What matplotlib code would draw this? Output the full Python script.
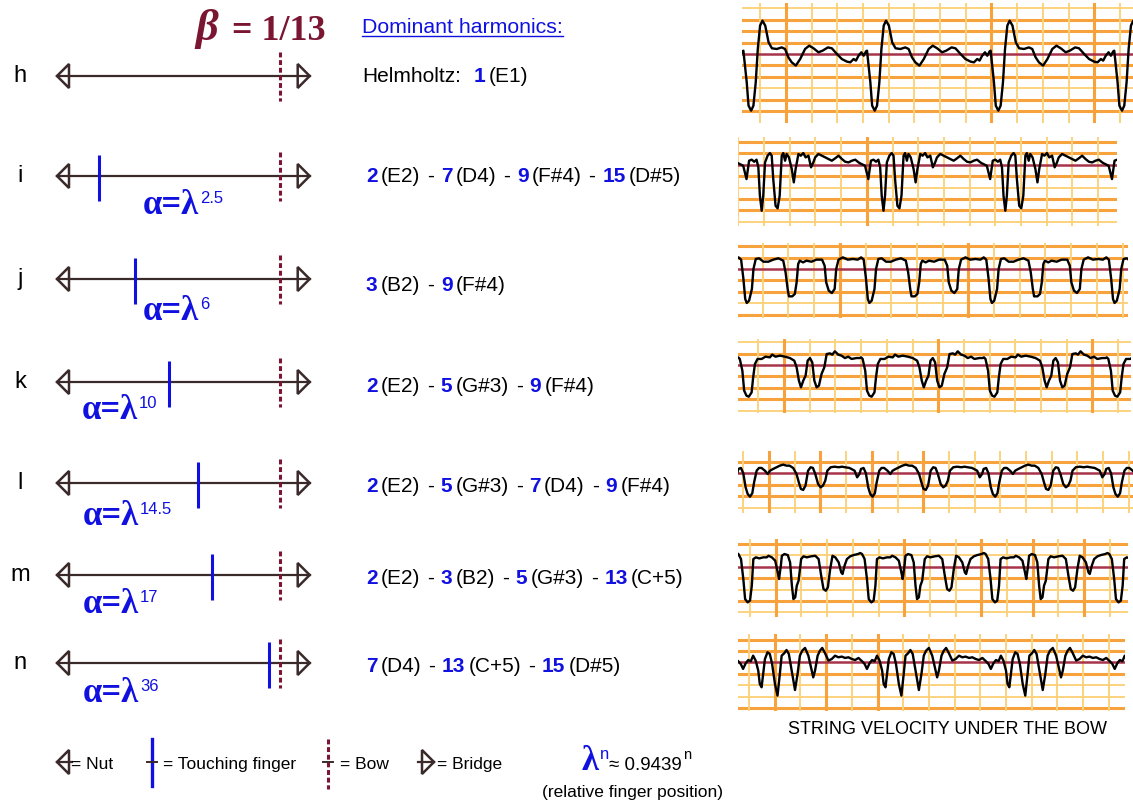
import numpy as np
import matplotlib.pyplot as plt
from matplotlib.patches import Polygon

plt.rcParams['font.family'] = ['Liberation Sans', 'DejaVu Sans']

W, H = 1133, 804

# semitone ratio and bow position
lam = 0.9439
beta = 1 / 13

row_names = ['h', 'i', 'j', 'k', 'l', 'm', 'n']
finger_exp = [None, 2.5, 6, 10, 14.5, 17, 36]
finger_exp_txt = ['', '2.5', '6', '10', '14.5', '17', '36']

harm_nums = [[1], [2, 7, 9, 15], [3, 9], [2, 5, 9], [2, 5, 7, 9], [2, 3, 5, 13], [7, 13, 15]]
harm_notes = [['E1'], ['E2', 'D4', 'F#4', 'D#5'], ['B2', 'F#4'], ['E2', 'G#3', 'F#4'],
              ['E2', 'G#3', 'D4', 'F#4'], ['E2', 'B2', 'G#3', 'C+5'], ['D4', 'C+5', 'D#5']]

# one period of string velocity per case (time in grid columns, velocity in grid rows)
h_t = [-0.30, -0.17, -0.10, 0.00, 0.09, 0.18, 0.26, 0.35, 0.44, 0.55, 0.68, 0.81, 1.00, 1.19,
       1.32, 1.45, 1.58, 1.74, 1.91, 2.10, 2.26, 2.43, 2.62, 2.78, 2.99, 3.14, 3.34, 3.53, 3.73,
       3.86, 3.99, 4.08, 4.18, 4.29, 4.38, 4.47]
h_v = [0.29, -2.49, -4.53, -4.97, -4.53, -2.49, 0.44, 2.49, 2.92, 2.49, 1.02, 0.50, 0.44, 0.58,
       0.44, -0.29, -0.73, -1.02, -0.44, 0.44, 0.73, 0.50, 0.15, 0.29, 0.58, 0.50, 0.00, -0.44,
       -0.67, -0.73, -0.44, -0.58, -0.15, 0.15, -0.15, 0.23]

i_t = [0.00, 0.19, 0.32, 0.42, 0.52, 0.62, 0.71, 0.78, 0.84, 0.91, 0.97, 1.04, 1.14, 1.23, 1.30,
       1.36, 1.45, 1.53, 1.61, 1.69, 1.75, 1.82, 1.88, 1.97, 2.08, 2.16, 2.23, 2.34, 2.43, 2.53,
       2.62, 2.73, 2.83, 2.92, 2.99, 3.12, 3.25, 3.38, 3.51, 3.64, 3.77, 3.90, 4.03, 4.16, 4.29,
       4.42, 4.55, 4.68]
i_v = [0.12, -0.09, -1.26, 0.35, 0.44, 0.26, 0.44, -0.23, -2.72, -4.04, -2.72, 0.20, 0.79, 1.02,
       0.79, -1.26, -3.60, -3.83, -2.72, 0.79, 1.02, 0.35, 0.94, 0.64, -0.38, -1.55, -0.38, 0.94,
       0.79, 1.02, 0.64, 0.79, -0.23, 0.20, 0.64, 0.94, 0.79, 0.64, 0.50, 0.35, 0.56, 0.79, 0.50,
       0.26, 0.20, 0.35, 0.44, 0.20]

j_t = [0.00, 0.10, 0.19, 0.26, 0.32, 0.41, 0.52, 0.58, 0.67, 0.80, 0.97, 1.16, 1.35, 1.55, 1.74,
       1.83, 1.91, 1.96, 2.09, 2.19, 2.26, 2.32, 2.38, 2.51, 2.64, 2.84, 3.03, 3.25, 3.35, 3.41,
       3.51, 3.63, 3.74, 3.80, 3.89, 4.06, 4.25, 4.45, 4.64]
j_v = [1.02, 0.82, -0.88, -2.63, -2.98, -2.78, -1.75, 0.00, 0.88, 0.94, 0.64, 0.64, 0.82, 0.94,
       0.73, -0.29, -1.75, -2.40, -2.40, -2.19, -1.17, 0.44, 0.73, 0.58, 0.73, 0.64, 0.82, 0.82,
       0.29, -1.17, -1.90, -2.11, -1.75, 0.00, 0.82, 1.02, 0.82, 0.88, 0.82]

k_t = [0.00, 0.06, 0.16, 0.23, 0.32, 0.41, 0.52, 0.58, 0.65, 0.75, 0.91, 1.06, 1.23, 1.32, 1.45,
       1.62, 1.82, 2.01, 2.18, 2.27, 2.36, 2.44, 2.53, 2.62, 2.70, 2.79, 2.88, 2.96, 3.05, 3.14,
       3.24, 3.35, 3.44, 3.57, 3.66, 3.76, 3.89, 4.02, 4.15, 4.28, 4.41, 4.60, 4.73]
k_v = [0.67, 0.53, -0.50, -2.25, -2.69, -2.78, -2.40, -1.08, 0.09, 0.53, 0.53, 0.73, 0.67, 0.91,
       0.73, 0.82, 0.73, 0.61, 0.38, -0.20, -1.37, -1.96, -1.37, -0.94, 0.38, 0.61, 0.23, -1.37,
       -1.96, -1.81, -0.79, -0.20, 0.96, 1.02, 0.91, 1.20, 0.91, 0.82, 0.61, 0.73, 0.53, 0.61, 0.61]

l_t = [0.00, 0.10, 0.19, 0.28, 0.36, 0.45, 0.54, 0.61, 0.71, 0.80, 0.90, 1.03, 1.14, 1.23, 1.35,
       1.48, 1.61, 1.74, 1.87, 1.99, 2.13, 2.26, 2.35, 2.43, 2.52, 2.61, 2.71, 2.81, 2.90, 2.99,
       3.10, 3.20, 3.29, 3.38, 3.46, 3.59, 3.74, 3.90, 4.03, 4.15, 4.32, 4.52, 4.62, 4.71]
l_v = [0.38, 0.47, 0.00, -1.23, -1.81, -2.05, -1.75, -0.79, 0.23, 0.47, 0.47, 0.23, -0.06, 0.23,
       0.38, 0.53, 0.67, 0.76, 0.67, 0.67, 0.47, -0.06, -0.79, -1.37, -1.46, -1.08, 0.23, 0.53,
       0.47, -0.06, -0.94, -1.23, -1.08, -0.64, 0.23, 0.53, 0.58, 0.53, 0.58, 0.53, 0.47, 0.23,
       -0.35, -0.06]

m_t = [0.00, 0.10, 0.19, 0.26, 0.36, 0.45, 0.52, 0.58, 0.68, 0.81, 0.97, 1.10, 1.17, 1.30, 1.43,
       1.53, 1.58, 1.65, 1.69, 1.79, 1.92, 2.01, 2.08, 2.14, 2.21, 2.27, 2.34, 2.44, 2.53, 2.66,
       2.83, 2.99, 3.12, 3.22, 3.31, 3.40, 3.48, 3.57, 3.66, 3.77, 3.90, 4.00, 4.05, 4.13, 4.22,
       4.35, 4.48, 4.65, 4.74]
m_v = [1.11, 0.67, -1.08, -2.84, -3.13, -2.98, -1.67, 0.67, 0.82, 0.73, 0.82, 0.82, 0.96, 0.82,
       0.53, -0.50, -1.08, 0.09, 0.96, 1.11, 1.02, 0.38, -1.67, -2.84, -2.69, -1.67, -1.23, 0.67,
       0.91, 0.82, 0.91, 0.96, 0.67, -0.79, -1.96, -2.11, -1.81, -0.20, 0.96, 0.82, 0.38, -0.50,
       -0.64, 0.09, 0.67, 0.91, 1.02, 1.11, 1.20]

n_t = [0.00, 0.10, 0.19, 0.29, 0.39, 0.49, 0.58, 0.68, 0.78, 0.84, 0.91, 0.97, 1.04, 1.14, 1.23,
       1.32, 1.43, 1.53, 1.62, 1.69, 1.79, 1.88, 1.97, 2.08, 2.21, 2.31, 2.40, 2.49, 2.60, 2.73,
       2.83, 2.92, 2.99, 3.09, 3.18, 3.27, 3.38, 3.51, 3.64, 3.77, 3.90, 4.03, 4.16, 4.29, 4.42,
       4.55, 4.68]
n_v = [0.09, -0.15, -0.58, -0.09, 0.20, 0.09, 0.58, 0.15, -0.73, -1.90, -2.19, -1.02, 0.29, 0.88,
       0.73, -0.15, -1.90, -2.92, -1.02, 0.58, 0.79, 1.08, 0.73, -0.73, -2.43, -1.02, 0.58, 1.02,
       1.26, 0.58, -0.44, -1.32, -0.73, 0.58, 1.02, 1.26, 0.79, 0.15, 0.29, 0.58, 0.44, 0.50, 0.38,
       0.44, 0.29, 0.20, 0.38]

wave_t = [h_t, i_t, j_t, k_t, l_t, m_t, n_t]
wave_v = [h_v, i_v, j_v, k_v, l_v, m_v, n_v]
periods = [4.81, 4.74, 4.77, 4.78, 4.77, 4.81, 4.82]

# ---- layout (pixels) ----
row_y = [77, 177, 280, 383, 484, 576, 664]
NUT_X, BRIDGE_X = 68, 297.7
BLUE = '#1010e0'
DARKRED = '#7a1532'
STRING_C = '#3a2a2a'

# panel boxes: left, right, top, bottom, grid origin x, zero line y, rows (top, bottom), phase
panels = [
    (742, 1133, 4, 124, 760.1, 55.0, (4, -5), -0.35),
    (738, 1117, 138, 227, 738.3, 165.7, (2, -5), 0.0),
    (738, 1128, 244, 319, 762.7, 270.0, (2, -4), -0.94),
    (738, 1131, 340, 414, 758.3, 366.0, (2, -4), -0.78),
    (738, 1133, 452, 514, 743.3, 474.3, (1, -3), -0.19),
    (738, 1128, 540, 618, 750.0, 567.7, (2, -4), -0.45),
    (738, 1125, 635, 712, 749.0, 663.3, (2, -4), -0.42),
]
heavy_rows = [[3, 2, 1, -1, -2, -4, -5], [2, 1, -1, -3, -4], [2, 1, -1, -2, -4], [1, -1, -2, -3],
              [1, -1, -2], [2, -1, -3], [2, 1, -1, -4]]
heavy_cols = [[1, 9, 13], [5], [3, 8], [1, 7, 13], [1, 3, 5, 7], [1, 6, 9, 11, 13], [1, 3, 5]]
COL_W, ROW_H = 25.7, 11.4

fig = plt.figure(figsize=(W / 100, H / 100), dpi=100)
ax = fig.add_axes([0, 0, 1, 1])
ax.set_xlim(0, W)
ax.set_ylim(H, 0)
ax.axis('off')
renderer = fig.canvas.get_renderer()


def text_run(x, y, pieces, size):
    # consecutive pieces of text on one baseline
    for s, c, wt, gap in pieces:
        t = ax.text(x, y, s, color=c, fontsize=size, fontweight=wt, va='baseline', ha='left')
        x += t.get_window_extent(renderer).width + gap
    return x


def finger_x(alpha):
    return BRIDGE_X - alpha * (BRIDGE_X - NUT_X)


def nut(x, y, stub=0):
    ax.add_patch(Polygon([(x - 11, y), (x + 1, y - 12), (x + 1, y + 12)], closed=True,
                         fill=False, ec=STRING_C, lw=1.8, joinstyle='miter'))
    if stub:
        ax.plot([x - 11, x + stub], [y, y], color=STRING_C, lw=1.6)


def bridge(x, y, stub=0):
    ax.add_patch(Polygon([(x + 12, y), (x, y - 12), (x, y + 12)], closed=True,
                         fill=False, ec=STRING_C, lw=1.8, joinstyle='miter'))
    if stub:
        ax.plot([x - stub, x + 12], [y, y], color=STRING_C, lw=1.6)


def lam_label(x, y, sup, sup_color):
    # bold serif "α=λ" style base with a small sans superscript
    t = ax.text(x, y, sup[0], family='Liberation Serif', fontweight='bold', fontsize=25,
                color=BLUE, va='baseline')
    w = t.get_window_extent(renderer).width
    s = ax.text(x + w + 1, y - 11, sup[1], fontsize=12, color=sup_color, va='baseline')
    return x + w + 1 + s.get_window_extent(renderer).width


bow_x = finger_x(beta)

# title
ax.text(195, 40, 'β', family='Liberation Serif', style='italic', fontweight='bold',
        fontsize=32, color=DARKRED, va='baseline')
ax.text(232, 40, '= 1/13', family='Liberation Serif',
        fontweight='bold', fontsize=26, color=DARKRED, va='baseline')

td = ax.text(362, 33, 'Dominant harmonics:', color=BLUE, fontsize=15.3, va='baseline')
wd = td.get_window_extent(renderer).width
ax.plot([362, 362 + wd], [36.5, 36.5], color=BLUE, lw=1.0)

for r, name in enumerate(row_names):
    y = row_y[r]
    ax.text(20, y - 1, name, fontsize=17, ha='center', va='center', color='black')
    # string with nut and bridge
    ax.plot([NUT_X - 11, BRIDGE_X + 12], [y, y], color=STRING_C, lw=1.6)
    nut(NUT_X, y)
    bridge(BRIDGE_X, y)
    ax.plot([bow_x, bow_x], [y - 24, y + 25], color=DARKRED, lw=2.2, linestyle=(0, (1.6, 0.9)))
    if finger_exp[r] is not None:
        fx = finger_x(lam ** finger_exp[r])
        ax.plot([fx, fx], [y - 21, y + 25], color=BLUE, lw=2.2, solid_capstyle='butt')

    # harmonic list
    if r == 0:
        pieces = [('Helmholtz:', 'black', 'normal', 13)]
    else:
        pieces = []
    nums, notes = harm_nums[r], harm_notes[r]
    for k, (hn, note) in enumerate(zip(nums, notes)):
        pieces.append((str(hn), BLUE, 'bold', 3))
        pieces.append(('(%s)' % note, 'black', 'normal', 7))
        if k < len(nums) - 1:
            pieces.append(('-', 'black', 'normal', 7))
    hx = 362 if r == 0 else 366
    text_run(hx, [82, 182, 291, 392, 492, 584, 672][r], pieces, 15)

# alpha labels
alpha_pos = [None, (143, 214), (143, 320), (82, 419), (83, 525), (83, 613), (83, 702)]
for r in range(1, 7):
    x, y = alpha_pos[r]
    lam_label(x, y, ('α=λ', finger_exp_txt[r]), BLUE)

# velocity panels
for p, (L, R, T, B, ox, zy, (rt, rb), ph) in enumerate(panels):
    pax = fig.add_axes([L / W, 1 - B / H, (R - L) / W, (B - T) / H])
    pax.set_xlim((L - ox) / COL_W, (R - ox) / COL_W)
    pax.set_ylim((zy - B) / ROW_H, (zy - T) / ROW_H)
    pax.axis('off')
    for rv in range(rb, rt + 1):
        if rv == 0:
            continue
        if rv in heavy_rows[p]:
            pax.axhline(rv, color='#f7a23c', lw=2.2, zorder=1)
        else:
            pax.axhline(rv, color='#fcd27e', lw=1.4, zorder=1)
    for cv in range(0, int((R - ox) / COL_W) + 1):
        if cv in heavy_cols[p]:
            pax.axvline(cv, color='#f7a23c', lw=2.2, zorder=1.2)
        else:
            pax.axvline(cv, color='#fcd27e', lw=1.4, zorder=1.2)
    pax.axhline(0, color='#a8344a', lw=1.8, zorder=2)
    tt = np.array(wave_t[p])
    vv = np.array(wave_v[p])
    P = periods[p]
    ts = np.concatenate([tt + ph + k * P for k in range(-1, 5)])
    vs = np.concatenate([vv for k in range(-1, 5)])
    pax.plot(ts, vs, color='black', lw=1.7, zorder=3, solid_joinstyle='round')

ax.text(948, 730, 'STRING VELOCITY UNDER THE BOW', fontsize=13, ha='center', va='center')

# legend row
ly = 763
nut(68, ly, stub=4)
ax.text(71, ly + 6, '= Nut', fontsize=12.5, va='baseline')
ax.plot([152, 152], [ly - 23, ly + 24], color=BLUE, lw=2.4)
ax.plot([147, 157], [ly, ly], color=STRING_C, lw=1.4)
ax.text(163, ly + 6, '= Touching finger', fontsize=12.5, va='baseline')
ax.plot([328, 328], [ly - 23, ly + 27], color=DARKRED, lw=2.2, linestyle=(0, (1.6, 0.9)))
ax.plot([323, 333], [ly, ly], color=STRING_C, lw=1.4)
ax.text(340, ly + 6, '= Bow', fontsize=12.5, va='baseline')
bridge(422, ly, stub=4)
ax.text(437, ly + 6, '= Bridge', fontsize=12.5, va='baseline')

xe = lam_label(582, 770, ('λ', 'n'), BLUE)
tq = ax.text(xe, 770, '≈ 0.9439', fontsize=13.5, color='black', va='baseline')
ax.text(xe + tq.get_window_extent(renderer).width + 1, 759, 'n', fontsize=10.5,
        color='black', va='baseline')
ax.text(633, 793, '(relative finger position)', fontsize=12.5, ha='center', va='center')

fig.savefig('out.png', dpi=100, facecolor='white')
